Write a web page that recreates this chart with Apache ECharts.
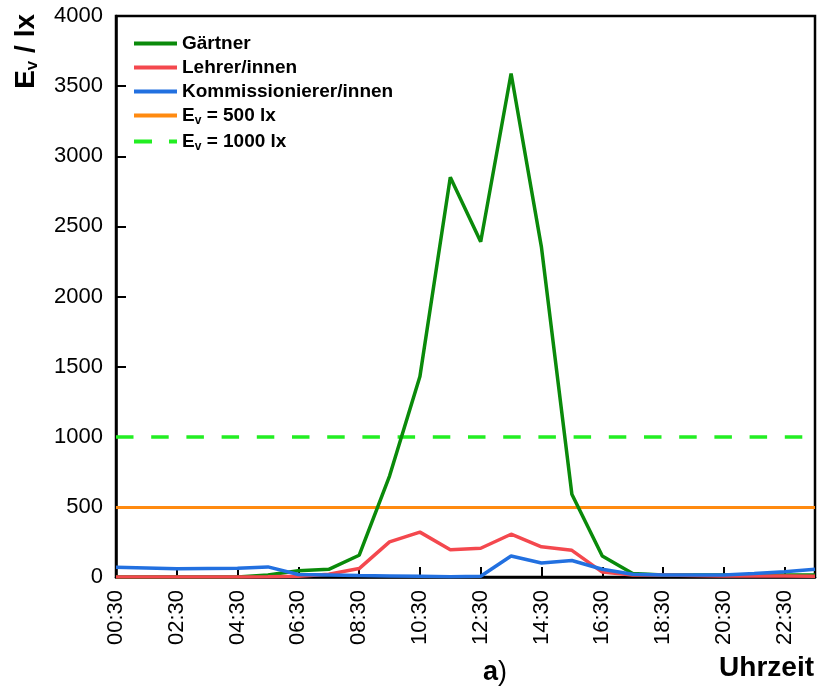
<!DOCTYPE html>
<html><head><meta charset="utf-8">
<script src="https://cdn.jsdelivr.net/npm/echarts@6/dist/echarts.min.js"></script>
<style>html,body{margin:0;padding:0;background:#fff}#c{width:819px;height:693px}</style>
</head><body><div id="c"></div>
<script>
const hours = ['00:30','01:30','02:30','03:30','04:30','05:30','06:30','07:30','08:30','09:30','10:30','11:30','12:30','13:30','14:30','15:30','16:30','17:30','18:30','19:30','20:30','21:30','22:30','23:30'];
const gaertner = [0,0,0,0,0,15,45,55,155,720,1430,2850,2390,3590,2350,590,150,25,15,15,15,15,15,15];
const lehrer = [0,0,0,0,0,2,5,20,60,250,320,195,205,305,215,190,35,15,15,10,8,8,8,5];
const kommiss = [70,64,58,60,62,72,18,15,10,8,6,2,5,150,100,118,55,20,15,15,15,25,38,55];
const thresholds = [500, 1000];
const yTicks = {min: 0, max: 4000, step: 500};

const FONT = 'Liberation Sans, Arial, sans-serif';
const chart = echarts.init(document.getElementById('c'), null, {renderer: 'canvas'});
const legendNames = {
  'G': '{b|Gärtner}', 'L': '{b|Lehrer/innen}', 'K': '{b|Kommissionierer/innen}',
  'E500': '{b|E}{s|v}{b| = ' + thresholds[0] + ' lx}',
  'E1000': '{b|E}{s|v}{b| = ' + thresholds[1] + ' lx}'
};
const solidIcon = 'path://M0,0h43v4h-43z';
const dashIcon = 'path://M0,0h18v4h-18z M35,0h8v4h-8z';
const option = {
  animation: false,
  backgroundColor: '#fff',
  grid: {left: 116, right: 4, top: 16, bottom: 116, show: true, borderColor: '#000', borderWidth: 2.5},
  legend: {
    orient: 'vertical', left: 134, top: 34, padding: 0, itemWidth: 43, itemHeight: 4, itemGap: 5,
    textStyle: {fontFamily: FONT, fontWeight: 'bold', fontSize: 19, color: '#000',
      rich: {b: {fontFamily: FONT, fontWeight: 'bold', fontSize: 19, lineHeight: 20, color: '#000'},
             s: {fontFamily: FONT, fontWeight: 'bold', fontSize: 12, color: '#000', padding: [11,0,0,0]}}},
    formatter: n => legendNames[n],
    data: [
      {name: 'G', icon: solidIcon}, {name: 'L', icon: solidIcon}, {name: 'K', icon: solidIcon},
      {name: 'E500', icon: solidIcon}, {name: 'E1000', icon: dashIcon}
    ]
  },
  xAxis: {
    type: 'category', data: hours, boundaryGap: false,
    axisLine: {lineStyle: {color: '#000', width: 2.5}},
    axisTick: {inside: true, length: 10, interval: 1, lineStyle: {color: '#000', width: 2}},
    axisLabel: {interval: 1, rotate: 90, margin: 13, fontFamily: FONT, fontSize: 22, color: '#000'},
    splitLine: {show: false}
  },
  yAxis: {
    type: 'value', min: yTicks.min, max: yTicks.max, interval: yTicks.step,
    axisLine: {show: true, lineStyle: {color: '#000', width: 2.5}},
    axisTick: {show: true, inside: true, length: 10, lineStyle: {color: '#000', width: 2}},
    axisLabel: {margin: 13, fontFamily: FONT, fontSize: 22, color: '#000', formatter: v => String(v)},
    splitLine: {show: false}
  },
  series: [
    {name: 'G', type: 'line', data: gaertner, symbol: 'none', z: 3, color: '#0a8a0a',
     lineStyle: {color: '#0a8a0a', width: 3.5}},
    {name: 'L', type: 'line', data: lehrer, symbol: 'none', z: 4, color: '#f4484e',
     lineStyle: {color: '#f4484e', width: 3.5}},
    {name: 'K', type: 'line', data: kommiss, symbol: 'none', z: 5, color: '#2270e0',
     lineStyle: {color: '#2270e0', width: 3.5}},
    {name: 'E500', type: 'line', data: [], symbol: 'none', z: 2, color: '#ff8a10',
     lineStyle: {color: '#ff8a10', width: 3},
     markLine: {silent: true, symbol: 'none', label: {show: false}, z: 2,
       lineStyle: {color: '#ff8a10', width: 3, type: 'solid'}, data: [{yAxis: thresholds[0]}]}},
    {name: 'E1000', type: 'line', data: [], symbol: 'none', z: 2, color: '#22ee22',
     lineStyle: {color: '#22ee22', width: 3},
     markLine: {silent: true, symbol: 'none', label: {show: false}, z: 2,
       lineStyle: {color: '#22ee22', width: 3.5, type: [17.5, 17.7], dashOffset: 0}, data: [{yAxis: thresholds[1]}]}}
  ],
  graphic: [
    {type: 'text', left: 12, top: 14, rotation: Math.PI / 2,
     style: {rich: {b: {fontFamily: FONT, fontWeight: 'bold', fontSize: 28, fill: '#000'},
                    s: {fontFamily: FONT, fontWeight: 'bold', fontSize: 17, fill: '#000', padding: [13,0,0,0]}},
             text: '{b|E}{s|v}{b| / lx}'}},
    {type: 'text', right: 5, top: 654,
     style: {text: 'Uhrzeit', fontFamily: FONT, fontWeight: 'bold', fontSize: 28, fill: '#000'}},
    {type: 'text', left: 483, top: 659,
     style: {rich: {a: {fontFamily: FONT, fontWeight: 'bold', fontSize: 27, fill: '#000'},
                    p: {fontFamily: FONT, fontSize: 27, fill: '#000'}}, text: '{a|a}{p|)}'}}
  ]
};
chart.setOption(option);
</script></body></html>
